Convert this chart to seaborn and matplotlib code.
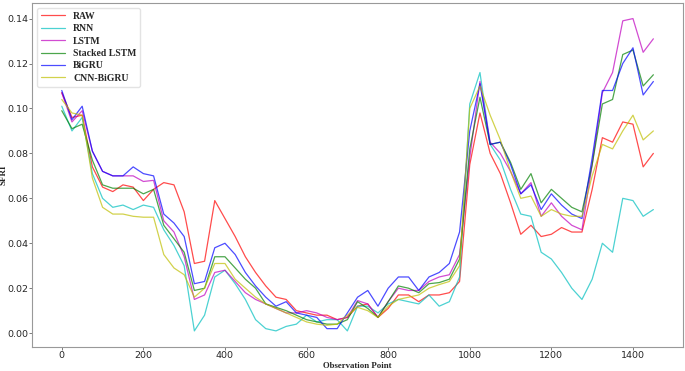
import numpy as np
import pandas as pd
import matplotlib
matplotlib.use('Agg')
import matplotlib.pyplot as plt
import seaborn as sns

# observation points (every 25)
obs = np.arange(0, 1451, 25)

raw = [0.107, 0.096, 0.097, 0.074, 0.065, 0.063, 0.066, 0.065, 0.059, 0.064,
       0.067, 0.066, 0.054, 0.031, 0.032, 0.059, 0.051, 0.043, 0.034, 0.027,
       0.021, 0.016, 0.015, 0.010, 0.009, 0.008, 0.008, 0.006, 0.007, 0.012,
       0.013, 0.007, 0.011, 0.017, 0.017, 0.014, 0.017, 0.017, 0.018, 0.023,
       0.075, 0.098, 0.080, 0.071, 0.058, 0.044, 0.048, 0.043, 0.044, 0.047,
       0.045, 0.045, 0.064, 0.087, 0.085, 0.094, 0.093, 0.074, 0.080]
rnn = [0.101, 0.090, 0.096, 0.071, 0.060, 0.056, 0.057, 0.055, 0.057, 0.056,
       0.046, 0.039, 0.030, 0.001, 0.008, 0.025, 0.028, 0.022, 0.015, 0.006,
       0.002, 0.001, 0.003, 0.004, 0.008, 0.005, 0.006, 0.006, 0.001, 0.012,
       0.012, 0.009, 0.013, 0.015, 0.014, 0.013, 0.017, 0.012, 0.014, 0.025,
       0.102, 0.116, 0.084, 0.077, 0.064, 0.053, 0.052, 0.036, 0.033, 0.027,
       0.020, 0.015, 0.024, 0.040, 0.036, 0.060, 0.059, 0.052, 0.055]
lstm = [0.107, 0.094, 0.099, 0.081, 0.072, 0.070, 0.070, 0.070, 0.0675, 0.068,
        0.050, 0.045, 0.034, 0.015, 0.017, 0.027, 0.028, 0.023, 0.018, 0.015,
        0.013, 0.011, 0.009, 0.009, 0.010, 0.009, 0.007, 0.006, 0.007, 0.0145,
        0.013, 0.007, 0.014, 0.020, 0.019, 0.019, 0.023, 0.025, 0.026, 0.035,
        0.078, 0.112, 0.085, 0.080, 0.072, 0.062, 0.067, 0.052, 0.058, 0.052,
        0.048, 0.046, 0.075, 0.107, 0.116, 0.139, 0.140, 0.125, 0.131]
stacked_lstm = [0.099, 0.091, 0.093, 0.077, 0.066, 0.0645, 0.0645, 0.0645, 0.062, 0.064,
                0.048, 0.042, 0.036, 0.019, 0.020, 0.034, 0.034, 0.029, 0.024, 0.020,
                0.013, 0.0115, 0.010, 0.008, 0.006, 0.005, 0.004, 0.004, 0.006, 0.014,
                0.011, 0.007, 0.014, 0.021, 0.020, 0.018, 0.022, 0.0225, 0.024, 0.033,
                0.082, 0.105, 0.084, 0.085, 0.076, 0.064, 0.071, 0.058, 0.064, 0.060,
                0.056, 0.054, 0.075, 0.102, 0.104, 0.124, 0.126, 0.110, 0.115]
bigru = [0.108, 0.095, 0.101, 0.081, 0.072, 0.070, 0.070, 0.074, 0.071, 0.070,
         0.053, 0.049, 0.043, 0.022, 0.023, 0.038, 0.040, 0.035, 0.027, 0.021,
         0.016, 0.012, 0.014, 0.009, 0.008, 0.007, 0.002, 0.002, 0.009, 0.016,
         0.019, 0.012, 0.020, 0.025, 0.025, 0.019, 0.025, 0.027, 0.031, 0.045,
         0.090, 0.111, 0.084, 0.085, 0.075, 0.062, 0.066, 0.055, 0.062, 0.057,
         0.053, 0.051, 0.078, 0.108, 0.108, 0.120, 0.127, 0.106, 0.112]
cnn_bigru = [0.104, 0.098, 0.097, 0.069, 0.056, 0.053, 0.053, 0.052, 0.0516, 0.0516,
             0.035, 0.029, 0.026, 0.016, 0.020, 0.031, 0.031, 0.024, 0.020, 0.016,
             0.013, 0.011, 0.009, 0.007, 0.005, 0.004, 0.0035, 0.004, 0.008, 0.0115,
             0.010, 0.007, 0.012, 0.015, 0.016, 0.017, 0.020, 0.0216, 0.023, 0.030,
             0.100, 0.110, 0.097, 0.086, 0.072, 0.060, 0.061, 0.052, 0.055, 0.053,
             0.052, 0.052, 0.070, 0.084, 0.082, 0.090, 0.097, 0.086, 0.090]

models = ['RAW', 'RNN', 'LSTM', 'Stacked LSTM', 'BiGRU', 'CNN-BiGRU']
series = [raw, rnn, lstm, stacked_lstm, bigru, cnn_bigru]
colors = ['r', 'c', 'm', 'g', 'b', 'y']

df = pd.concat([pd.DataFrame({'Observation Point': obs, 'SFRI': s, 'Model': m})
                for m, s in zip(models, series)], ignore_index=True)

sns.set_style('ticks')

fig = plt.figure(figsize=(6.85, 3.71), dpi=100)
ax = fig.add_axes([0.047, 0.066, 0.95, 0.926])
sns.lineplot(data=df, x='Observation Point', y='SFRI', hue='Model',
             palette=dict(zip(models, colors)), linewidth=0.9, alpha=0.7, ax=ax)

for s in ax.spines.values():
    s.set_color('#999999')
    s.set_linewidth(0.8)
ax.tick_params(labelsize=6.8, length=2, width=0.6, color='#666666', pad=1.0)
ax.set_xticks(np.arange(0, 1401, 200))
ax.set_yticks(np.arange(0, 0.141, 0.02))
ax.set_yticklabels([f'{v:.2f}' for v in np.arange(0, 0.141, 0.02)])
ax.set_xlabel('Observation Point', fontsize=6.3, fontweight='bold', family='Liberation Serif')
ax.set_ylabel('SFRI', fontsize=6.5, fontweight='bold', family='Liberation Serif')
ax.xaxis.set_label_coords(0.5, -0.045)
ax.yaxis.set_label_coords(-0.038, 0.5)

leg = ax.legend(loc='upper left', prop={'family': 'Liberation Serif', 'weight': 'bold', 'size': 7},
                handlelength=2.5, borderpad=0.4, labelspacing=0.35, frameon=True)
leg.get_frame().set_edgecolor('#dddddd')

fig.savefig('out.png', dpi=100)
